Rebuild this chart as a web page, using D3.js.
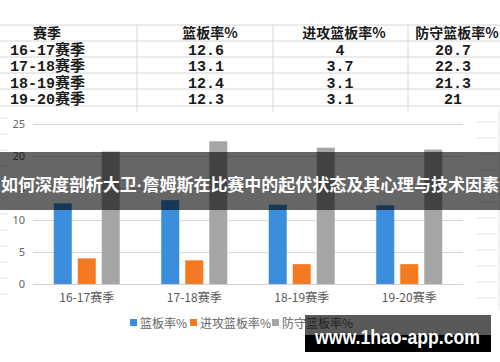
<!DOCTYPE html>
<html>
<head>
<meta charset="utf-8">
<script src="https://cdn.jsdelivr.net/npm/d3@7"></script>
<style>
  body { margin: 0; background: #fff; }
  svg { display: block; }
</style>
</head>
<body>
<svg id="chart" width="500" height="362"></svg>
<script>
// data
const seasons = ['16-17赛季', '17-18赛季', '18-19赛季', '19-20赛季'];
const seriesNames = ['篮板率%', '进攻篮板率%', '防守篮板率%'];
const rebound = [12.6, 13.1, 12.4, 12.3];
const offRebound = [4, 3.7, 3.1, 3.1];
const defRebound = [20.7, 22.3, 21.3, 21];
const tableValueText = [
  ['12.6', '4', '20.7'],
  ['13.1', '3.7', '22.3'],
  ['12.4', '3.1', '21.3'],
  ['12.3', '3.1', '21']
];
const yTicks = [0, 5, 10, 15, 20, 25];
const titleParts = ['如何深度剖析大卫', '·', '詹姆斯在比赛中的起伏状态及其心理与技术因素'];
const watermark = 'www.1hao-app.com';

const colors = ['#3b8ede', '#f47a21', '#a5a5a5'];
const series = [rebound, offRebound, defRebound];

const svg = d3.select('#chart');

// --- table on top ---
const table = svg.append('g').attr('class', 'table');
const rowLines = [25, 41, 57, 73, 89, 106];
const colLines = [137, 273, 408];
const colCenters = [47, 206, 340, 453];

table.selectAll('line.row')
  .data(rowLines)
  .join('line')
  .attr('class', 'row')
  .attr('x1', 0).attr('x2', 500)
  .attr('y1', d => d).attr('y2', d => d)
  .attr('stroke', '#d6d6d6');

table.selectAll('line.col')
  .data(colLines)
  .join('line')
  .attr('class', 'col')
  .attr('x1', d => d).attr('x2', d => d)
  .attr('y1', 25).attr('y2', 112)
  .attr('stroke', '#d6d6d6');

const tableFont = '"Liberation Mono", "Noto Sans CJK SC", monospace';
const headers = ['赛季'].concat(seriesNames);
table.selectAll('text.head')
  .data(headers)
  .join('text')
  .attr('class', 'head')
  .attr('x', (d, i) => colCenters[i] + (i === 0 ? 0 : 4))
  .attr('y', 38)
  .attr('text-anchor', 'middle')
  .attr('font-family', '"Noto Sans CJK SC", sans-serif')
  .attr('font-weight', 'bold')
  .attr('font-size', 14)
  .attr('fill', '#1a1a1a')
  .text(d => d);

seasons.forEach((s, r) => {
  const y = 55 + r * 16.3;
  table.append('text')
    .attr('x', 10).attr('y', y)
    .attr('font-family', tableFont)
    .attr('font-weight', 'bold')
    .attr('font-size', 15)
    .attr('fill', '#1a1a1a')
    .text(s);
  tableValueText[r].forEach((v, c) => {
    table.append('text')
      .attr('x', colCenters[c + 1]).attr('y', y)
      .attr('text-anchor', 'middle')
      .attr('font-family', tableFont)
      .attr('font-weight', 'bold')
      .attr('font-size', 15)
      .attr('fill', '#1a1a1a')
      .text(v);
  });
});

// --- bar chart ---
const x = d3.scaleBand().domain(seasons).range([33, 463]);
const xSub = d3.scaleBand().domain(d3.range(3)).range([0, x.bandwidth()])
  .paddingInner(0.25).paddingOuter(0.865);
const y = d3.scaleLinear().domain([0, 25]).range([284, 124]);

// faint spreadsheet remnants at the edges
const edge = svg.append('g').attr('stroke', '#e4e4e4');
d3.range(118, 300, 16).forEach(v => {
  edge.append('line').attr('x1', 0).attr('x2', 8).attr('y1', v).attr('y2', v);
  edge.append('line').attr('x1', 477).attr('x2', 497).attr('y1', v + 4).attr('y2', v + 4);
});
edge.append('line').attr('x1', 499).attr('x2', 499).attr('y1', 110).attr('y2', 310);

const yAxis = svg.append('g')
  .attr('transform', 'translate(33,0)')
  .call(d3.axisLeft(y).tickValues(yTicks).tickSize(-430).tickPadding(8));
yAxis.select('.domain').remove();
yAxis.selectAll('.tick line').attr('stroke', '#d9d9d9');
yAxis.selectAll('.tick text')
  .attr('fill', '#666')
  .attr('font-size', 11)
  .attr('font-family', '"Noto Sans", sans-serif');

const groups = svg.append('g').selectAll('g')
  .data(seasons)
  .join('g')
  .attr('transform', d => `translate(${x(d)},0)`);

groups.selectAll('rect')
  .data((d, i) => series.map((s, k) => ({ k, v: s[i] })))
  .join('rect')
  .attr('x', d => xSub(d.k))
  .attr('width', xSub.bandwidth())
  .attr('y', d => y(d.v))
  .attr('height', d => y(0) - y(d.v))
  .attr('fill', d => colors[d.k]);

const xAxis = svg.append('g')
  .attr('transform', 'translate(0,284)')
  .call(d3.axisBottom(x).tickSize(0).tickPadding(9));
xAxis.select('.domain').attr('stroke', '#d0d0d0');
xAxis.selectAll('.tick text')
  .attr('fill', '#595959')
  .attr('font-size', 12)
  .attr('font-family', '"Noto Sans CJK SC", sans-serif');

// legend
const legendX = [130, 190, 272];
const legend = svg.append('g').selectAll('g')
  .data(seriesNames)
  .join('g')
  .attr('transform', (d, i) => `translate(${legendX[i]},323)`);
legend.append('rect')
  .attr('x', 0).attr('y', -4)
  .attr('width', 7).attr('height', 7)
  .attr('fill', (d, i) => colors[i]);
legend.append('text')
  .attr('x', 10).attr('y', 4.5)
  .attr('font-size', 12)
  .attr('fill', '#666')
  .attr('font-family', '"Noto Sans CJK SC", sans-serif')
  .text(d => d);

// --- title banner overlay ---
svg.append('rect')
  .attr('x', 0).attr('y', 152)
  .attr('width', 500).attr('height', 58)
  .attr('fill', 'rgba(0,0,0,0.6)');
const titleText = svg.append('text')
  .attr('x', 1).attr('y', 191)
  .attr('textLength', 498)
  .attr('lengthAdjust', 'spacingAndGlyphs')
  .attr('font-family', '"Noto Sans CJK SC", sans-serif')
  .attr('font-weight', 'bold')
  .attr('font-size', 17)
  .attr('fill', '#fff');
titleText.selectAll('tspan')
  .data(titleParts)
  .join('tspan')
  .attr('font-family', (d, i) => i === 1 ? '"Liberation Sans", sans-serif' : null)
  .text(d => d);

// --- watermark ---
svg.append('rect')
  .attr('x', 305).attr('y', 315)
  .attr('width', 186).attr('height', 20)
  .attr('fill', 'rgba(0,0,0,0.65)');
svg.append('rect')
  .attr('x', 305).attr('y', 335)
  .attr('width', 186).attr('height', 17)
  .attr('fill', '#000');
svg.append('text')
  .attr('x', 315).attr('y', 344)
  .attr('textLength', 165)
  .attr('lengthAdjust', 'spacingAndGlyphs')
  .attr('font-family', '"Liberation Sans", sans-serif')
  .attr('font-weight', 'bold')
  .attr('font-size', 20)
  .attr('fill', '#fff')
  .text(watermark);
</script>
</body>
</html>
